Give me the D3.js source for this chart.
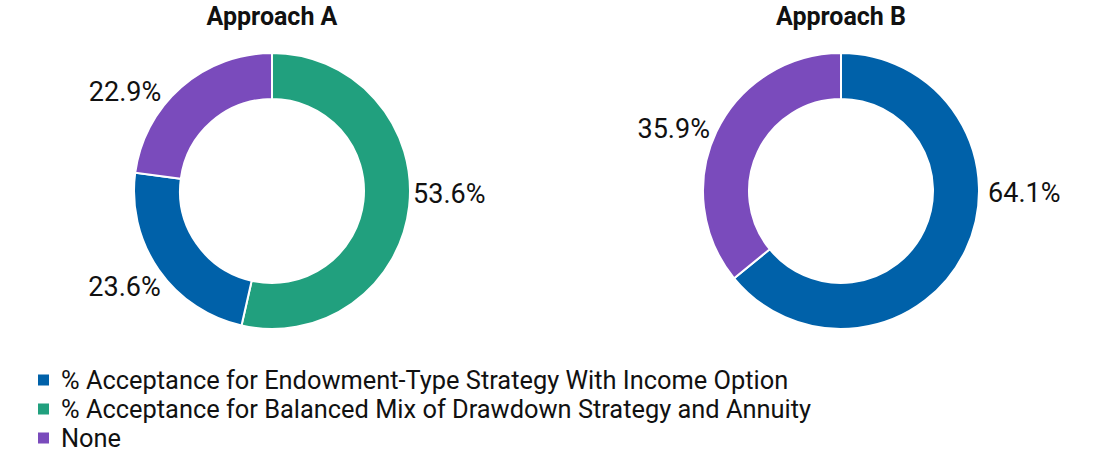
<!DOCTYPE html>
<html>
<head>
<meta charset="utf-8">
<script src="https://cdn.jsdelivr.net/npm/d3@7"></script>
<style>
  body { margin: 0; background: #fff; }
  svg text { font-family: Roboto, "Noto Sans", sans-serif; fill: #111; }
</style>
</head>
<body>
<svg id="chart"></svg>
<script>
// series, in the order they are listed in the legend
let categories = [
  '% Acceptance for Endowment-Type Strategy With Income Option',
  '% Acceptance for Balanced Mix of Drawdown Strategy and Annuity',
  'None'
];
let colors = ['#0061a9', '#21a07e', '#7a4bbc'];

let titles = ['Approach A', 'Approach B'];
// slice order as drawn clockwise from 12 o'clock (index into categories)
let orderA = [1, 0, 2];
let valuesA = [53.6, 23.6, 22.9];
let orderB = [0, 2];
let valuesB = [64.1, 35.9];

let w = 1100;
let h = 452;

let svg = d3.select('#chart')
    .attr('width', w)
    .attr('height', h);

let color = d3.scaleOrdinal().domain(d3.range(categories.length)).range(colors);

let outer = 138;
let inner = 92;

let arc = d3.arc().innerRadius(inner).outerRadius(outer);
let pie = d3.pie().sort(null).value(d => d.v);

// label nudges so they sit where the original put them
let nudge = {
  'Approach A': [[-2, -13], [7, 14], [-16, 9]],
  'Approach B': [[17, -60], [-1, 0]]
};

function donut(cx, title, order, values) {
  let g = svg.append('g').attr('transform', `translate(${cx}, 191)`);

  g.append('text')
      .attr('y', -191 + 25)
      .attr('text-anchor', 'middle')
      .style('font-size', '25px')
      .style('font-weight', 700)
      .text(title);

  let data = pie(order.map((c, i) => ({ c: c, v: values[i] })));

  g.selectAll('path')
    .data(data)
    .enter()
    .append('path')
      .attr('d', arc)
      .attr('fill', d => color(d.data.c))
      .attr('stroke', '#fff')
      .attr('stroke-width', 2);

  g.selectAll('.lbl')
    .data(data)
    .enter()
    .append('text')
      .attr('class', 'lbl')
      .each(function (d, i) {
        let a = (d.startAngle + d.endAngle) / 2;
        let r = outer + 6;
        d3.select(this)
          .attr('x', Math.sin(a) * r + nudge[title][i][0])
          .attr('y', -Math.cos(a) * r + nudge[title][i][1])
          .attr('text-anchor', Math.sin(a) >= 0 ? 'start' : 'end');
      })
      .attr('dominant-baseline', 'central')
      .style('font-size', '27px')
      .text(d => d3.format('.1f')(d.data.v) + '%');
}

donut(272, titles[0], orderA, valuesA);
donut(841, titles[1], orderB, valuesB);

let legend = svg.append('g')
    .attr('transform', 'translate(38, 380)')
    .selectAll('g')
    .data(categories)
    .enter()
    .append('g')
    .attr('transform', (d, i) => `translate(0, ${i * 29})`);

legend.append('rect')
    .attr('x', 0)
    .attr('y', -5.5)
    .attr('width', 11)
    .attr('height', 11)
    .attr('fill', (d, i) => color(i));

legend.append('text')
    .attr('x', 23)
    .attr('dominant-baseline', 'central')
    .style('font-size', '25.4px')
    .text(d => d);
</script>
</body>
</html>
